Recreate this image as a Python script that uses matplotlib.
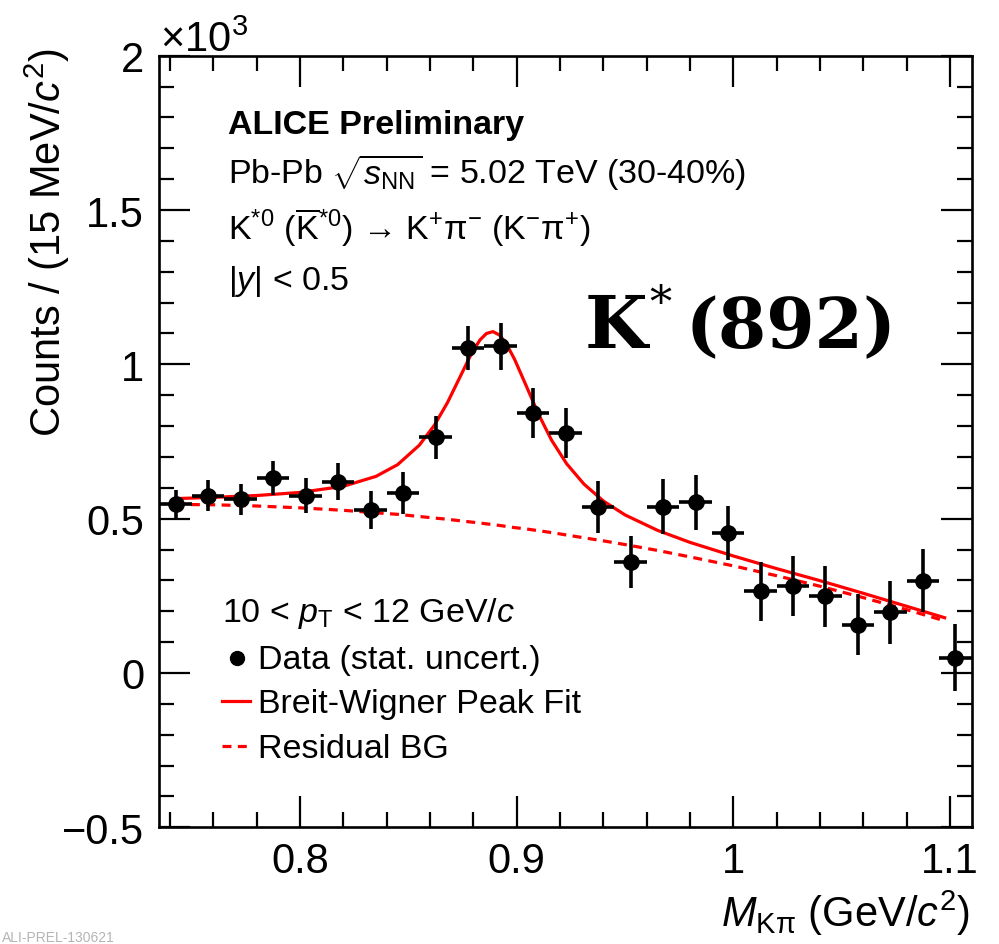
import matplotlib.pyplot as plt
from matplotlib.lines import Line2D
from matplotlib.ticker import MultipleLocator, FuncFormatter

plt.rcParams['font.family'] = ['Liberation Sans', 'DejaVu Sans']
plt.rcParams['mathtext.fontset'] = 'custom'
plt.rcParams['mathtext.rm'] = 'Liberation Sans'
plt.rcParams['mathtext.it'] = 'Liberation Sans:italic'
plt.rcParams['mathtext.bf'] = 'Liberation Sans:bold'

# K-pi invariant mass spectrum, 15 MeV/c^2 bins (bin centres in GeV/c^2)
mass = [0.7425, 0.7575, 0.7725, 0.7875, 0.8025, 0.8175, 0.8325, 0.8475,
        0.8625, 0.8775, 0.8925, 0.9075, 0.9225, 0.9375, 0.9525, 0.9675,
        0.9825, 0.9975, 1.0125, 1.0275, 1.0425, 1.0575, 1.0725, 1.0875,
        1.1025]
counts = [548, 574, 563, 633, 575, 620, 528, 584, 763, 1053, 1058, 842,
          777, 539, 360, 539, 553, 453, 265, 282, 249, 157, 196, 299, 50]
stat_err = [45, 50, 50, 55, 58, 60, 62, 68, 71, 72, 77, 81, 80, 84, 85,
            89, 90, 88, 95, 96, 99, 98, 103, 103, 109]
half_bin = 0.0075

# Breit-Wigner + residual background fit, sampled along the mass axis
fit_mass = [0.7425, 0.76, 0.78, 0.80, 0.82, 0.835, 0.845, 0.855, 0.862,
            0.868, 0.874, 0.879, 0.883, 0.886, 0.889, 0.892, 0.895, 0.899,
            0.904, 0.910, 0.916, 0.923, 0.931, 0.940, 0.950, 0.965, 0.980,
            1.000, 1.020, 1.040, 1.060, 1.080, 1.0975]
fit_total = [565, 569, 575, 585, 605, 637, 675, 738, 803, 876, 962, 1034,
             1079, 1100, 1106, 1095, 1069, 1016, 936, 839, 755, 678, 612,
             557, 512, 462, 423, 379, 338, 299, 258, 216, 179]
fit_bg = [546, 545, 541, 535, 527, 519, 514, 507, 502, 498, 493, 489, 486,
          483, 481, 478, 475, 471, 467, 461, 455, 447, 438, 428, 416, 397,
          376, 347, 315, 281, 244, 205, 169]

W, H = 999, 945
TXT = 24.5
DASH = (0, (2.8, 2.0))


def fpos(x, y):
    # pixel position (from top-left) -> figure fraction
    return x / W, 1 - y / H


fig = plt.figure(figsize=(W / 100, H / 100), dpi=100)
ax = fig.add_axes([0.1595, 0.1235, 0.8132, 0.8165])

ax.plot(fit_mass, fit_bg, color='red', lw=2.3, ls=DASH, zorder=2)
ax.plot(fit_mass, fit_total, color='red', lw=2.3, zorder=3)
ax.errorbar(mass, counts, yerr=stat_err, xerr=half_bin, fmt='o',
            color='black', ms=11, elinewidth=2.6, capsize=0, zorder=4)

ax.set_xlim(0.735, 1.11)
ax.set_ylim(-500, 2000)
ax.xaxis.set_major_locator(MultipleLocator(0.1))
ax.xaxis.set_minor_locator(MultipleLocator(0.02))
ax.yaxis.set_major_locator(MultipleLocator(500))
ax.yaxis.set_minor_locator(MultipleLocator(100))
ax.xaxis.set_major_formatter(FuncFormatter(lambda v, p: '%g' % round(v, 3)))
ax.yaxis.set_major_formatter(
    FuncFormatter(lambda v, p: ('%g' % (v / 1000)).replace('-', '\u2212')))

ax.tick_params(which='both', direction='in', top=True, right=True,
               width=1.6, labelsize=30)
ax.tick_params(which='major', length=22)
ax.tick_params(which='minor', length=11)
ax.tick_params(axis='x', which='major', pad=10)
ax.tick_params(axis='y', which='major', pad=11)
for s in ax.spines.values():
    s.set_linewidth(1.9)

# axis titles
fig.text(*fpos(47, 48), 'Counts / (15 MeV/$c^{2}$)', rotation=90,
         ha='center', va='top', fontsize=30)
fig.text(*fpos(970, 927), '$M_{\\mathrm{K\u03c0}}$ (GeV/$c^{2}$)',
         ha='right', va='baseline', fontsize=30)
fig.text(*fpos(160, 52), '\u00d710$^{3}$', ha='left', va='baseline',
         fontsize=30)

# header
fig.text(*fpos(228, 134), 'ALICE Preliminary', fontweight='bold',
         fontsize=TXT, va='baseline')
fig.text(*fpos(228, 184),
         'Pb-Pb $\\sqrt{s_{\\mathrm{NN}}}$ = 5.02 TeV (30-40%)',
         fontsize=TXT, va='baseline')
fig.text(*fpos(228, 240),
         'K$^{*0}$ ($\\overline{\\mathrm{K}}^{*0}$) \u2192 K$^{+}$\u03c0$^{-}$'
         ' (K$^{-}$\u03c0$^{+}$)',
         fontsize=TXT, va='baseline')
fig.text(*fpos(228, 290), '|$y$| < 0.5', fontsize=TXT, va='baseline')

# particle name
fig.text(*fpos(585, 348), 'K', family='DejaVu Serif', fontweight='bold',
         fontsize=52, va='baseline')
fig.text(*fpos(649, 318), '*', family='DejaVu Serif', fontsize=32,
         va='baseline')
fig.text(*fpos(686, 348), '(892)', family='DejaVu Serif', fontweight='bold',
         fontsize=50, va='baseline')

# legend
fig.text(*fpos(222, 622), '10 < $p_{\\mathrm{T}}$ < 12 GeV/$c$',
         fontsize=TXT, va='baseline')
fig.add_artist(Line2D([237 / W], [1 - 659 / H], marker='o', color='black',
                      ms=10, ls='none'))
fig.text(*fpos(258, 669), 'Data (stat. uncert.)', fontsize=TXT,
         va='baseline')
fig.add_artist(Line2D([222 / W, 250 / W], [1 - 702 / H] * 2, color='red',
                      lw=2.3))
fig.text(*fpos(258, 713), 'Breit-Wigner Peak Fit', fontsize=TXT,
         va='baseline')
fig.add_artist(Line2D([222 / W, 250 / W], [1 - 747 / H] * 2, color='red',
                      lw=2.3, ls=DASH))
fig.text(*fpos(258, 758), 'Residual BG', fontsize=TXT, va='baseline')

fig.text(*fpos(2, 942), 'ALI-PREL-130621', fontsize=10, color='#b4b4b4',
         va='baseline')

fig.savefig('out.png', dpi=100)
